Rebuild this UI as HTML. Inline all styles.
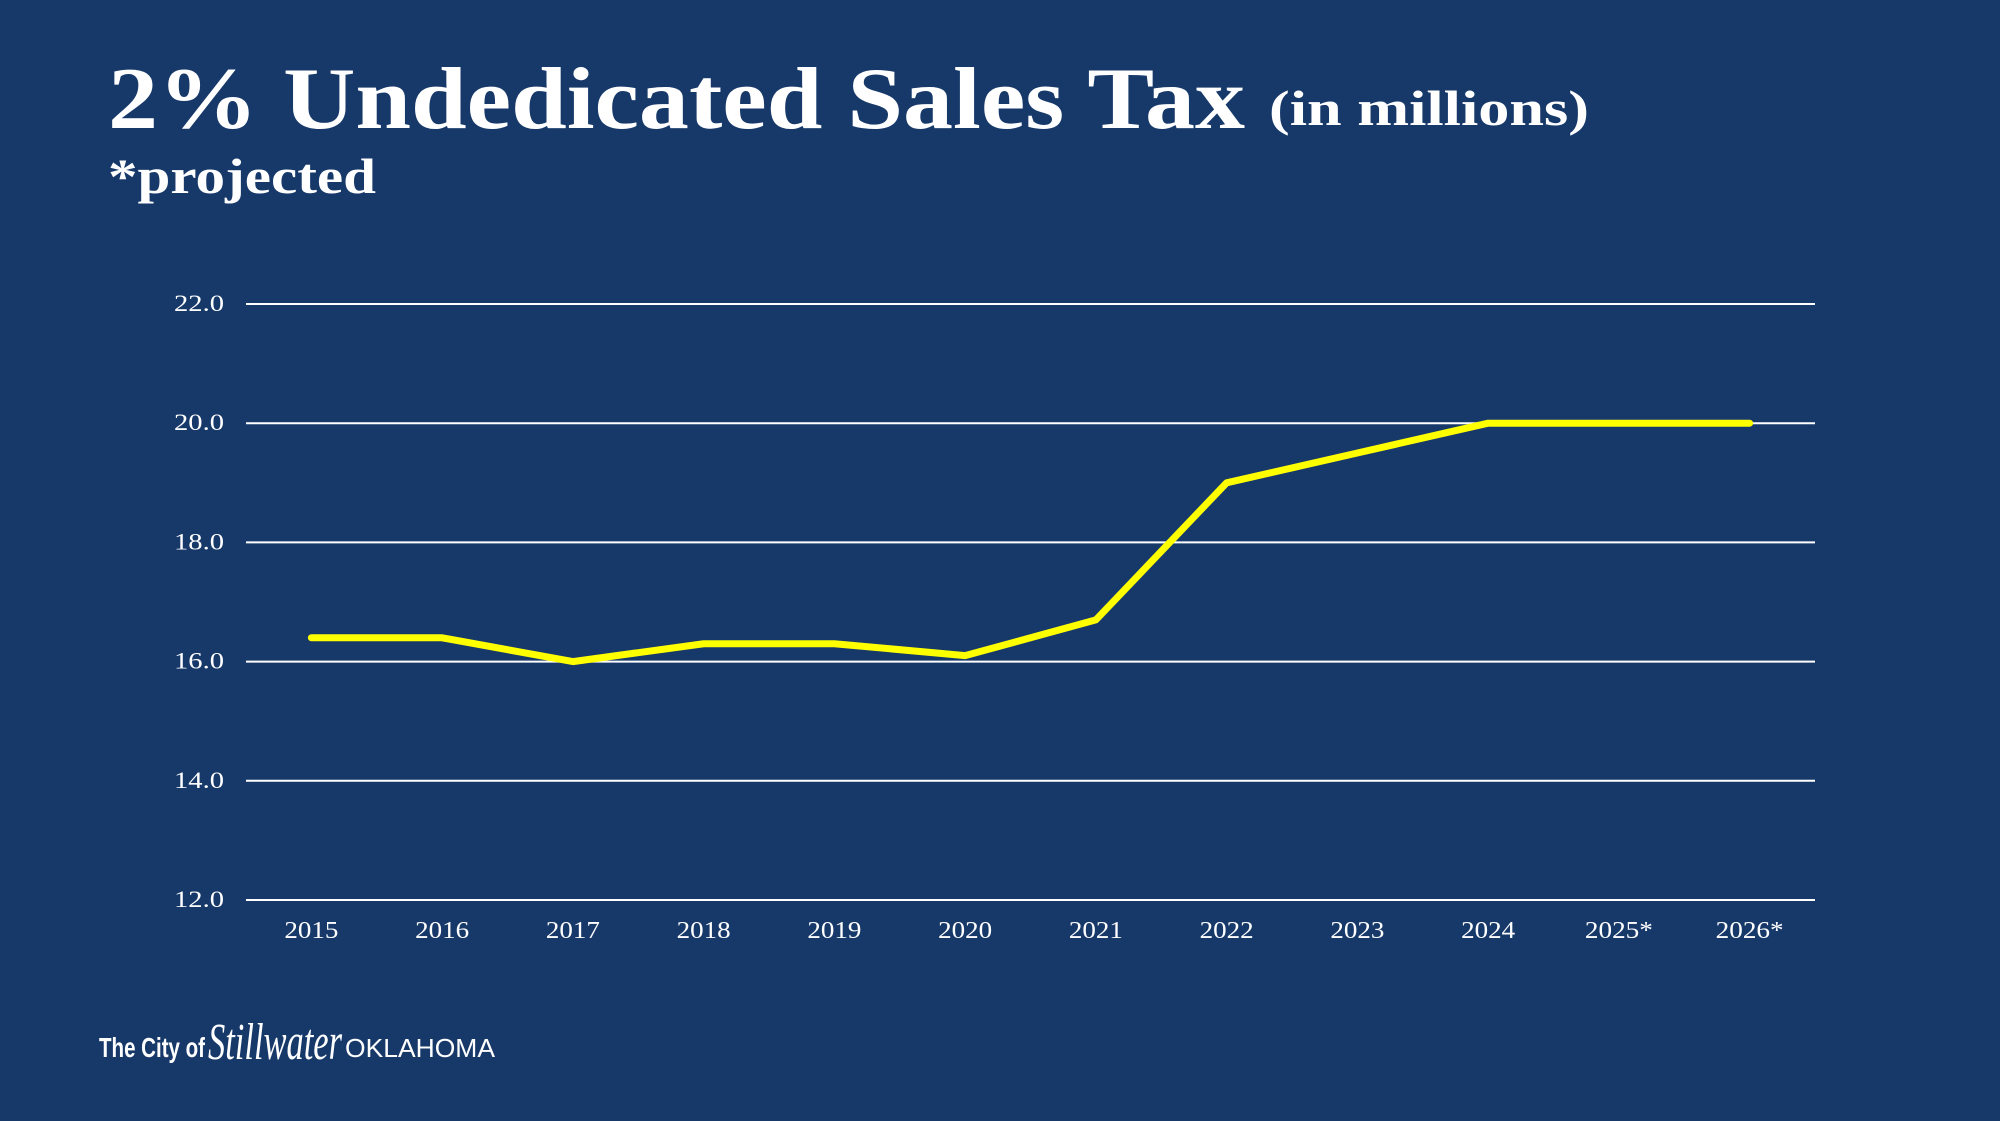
<!DOCTYPE html>
<html><head><meta charset="utf-8"><style>
html,body{margin:0;padding:0;background:#17396a;}
svg{display:block}
</style></head><body>
<svg width="2000" height="1121" viewBox="0 0 2000 1121" xmlns="http://www.w3.org/2000/svg">
<rect width="2000" height="1121" fill="#17396a"/>
<text x="108" y="128" font-family="Liberation Serif, serif" font-weight="bold" font-size="88" fill="#fff" textLength="1137" lengthAdjust="spacingAndGlyphs">2% Undedicated Sales Tax</text>
<text x="1269" y="125" font-family="Liberation Serif, serif" font-weight="bold" font-size="50" fill="#fff" textLength="320" lengthAdjust="spacingAndGlyphs">(in millions)</text>
<text x="108" y="193" font-family="Liberation Serif, serif" font-weight="bold" font-size="50" fill="#fff" textLength="268" lengthAdjust="spacingAndGlyphs">*projected</text>
<g id="grid"></g>
<g id="ylabels"></g>
<g id="xlabels"></g>
<polyline id="line" fill="none" stroke="#ffff00" stroke-width="7" stroke-linejoin="round" stroke-linecap="round"/>
<g>
<text x="99" y="1057" font-family="Liberation Sans, sans-serif" font-weight="bold" font-size="28" fill="#fff" textLength="106" lengthAdjust="spacingAndGlyphs">The City of</text>
<text x="208" y="1059" font-family="Liberation Serif, serif" font-style="italic" font-size="52" fill="#fff" textLength="134" lengthAdjust="spacingAndGlyphs">Stillwater</text>
<text x="345" y="1057" font-family="Liberation Sans, sans-serif" font-size="26" fill="#fff" textLength="150" lengthAdjust="spacingAndGlyphs">OKLAHOMA</text>
</g>
</svg>
<script>
const categories=["2015","2016","2017","2018","2019","2020","2021","2022","2023","2024","2025*","2026*"];
const values=[16.4,16.4,16.0,16.3,16.3,16.1,16.7,19.0,19.5,20.0,20.0,20.0];
const yTicks=[12,14,16,18,20,22];
const NS="http://www.w3.org/2000/svg";
const x0=246,x1=1815,yTop=304,yBot=900,yMin=12,yMax=22;
const step=(x1-x0)/categories.length;
function xs(i){return x0+step*(i+0.5);}
function ys(v){return yBot-(v-yMin)/(yMax-yMin)*(yBot-yTop);}
const grid=document.getElementById('grid'),yl=document.getElementById('ylabels'),xl=document.getElementById('xlabels');
yTicks.forEach(t=>{
 const l=document.createElementNS(NS,'line');
 l.setAttribute('x1',x0);l.setAttribute('x2',x1);l.setAttribute('y1',ys(t));l.setAttribute('y2',ys(t));
 l.setAttribute('stroke','#ffffff');l.setAttribute('stroke-width','2');
 
 
 grid.appendChild(l);
 const tx=document.createElementNS(NS,'text');
 tx.setAttribute('x',224);tx.setAttribute('y',ys(t)+7);tx.setAttribute('text-anchor','end');
 tx.setAttribute('font-family','Liberation Serif, serif');tx.setAttribute('font-size','23');tx.setAttribute('fill','#fff');
 tx.setAttribute('textLength','50');tx.setAttribute('lengthAdjust','spacingAndGlyphs');
 tx.textContent=t.toFixed(1);
 
 
 yl.appendChild(tx);
});
categories.forEach((c,i)=>{
 const tx=document.createElementNS(NS,'text');
 tx.setAttribute('x',xs(i));tx.setAttribute('y',938);tx.setAttribute('text-anchor','middle');
 tx.setAttribute('font-family','Liberation Serif, serif');tx.setAttribute('font-size','24');tx.setAttribute('fill','#fff');
 tx.setAttribute('textLength',c.length>4?'68':'54');tx.setAttribute('lengthAdjust','spacingAndGlyphs');
 tx.textContent=c;
 
 
 xl.appendChild(tx);
});
document.getElementById('line').setAttribute('points',values.map((v,i)=>xs(i)+','+ys(v)).join(' '));
</script>
</body></html>
